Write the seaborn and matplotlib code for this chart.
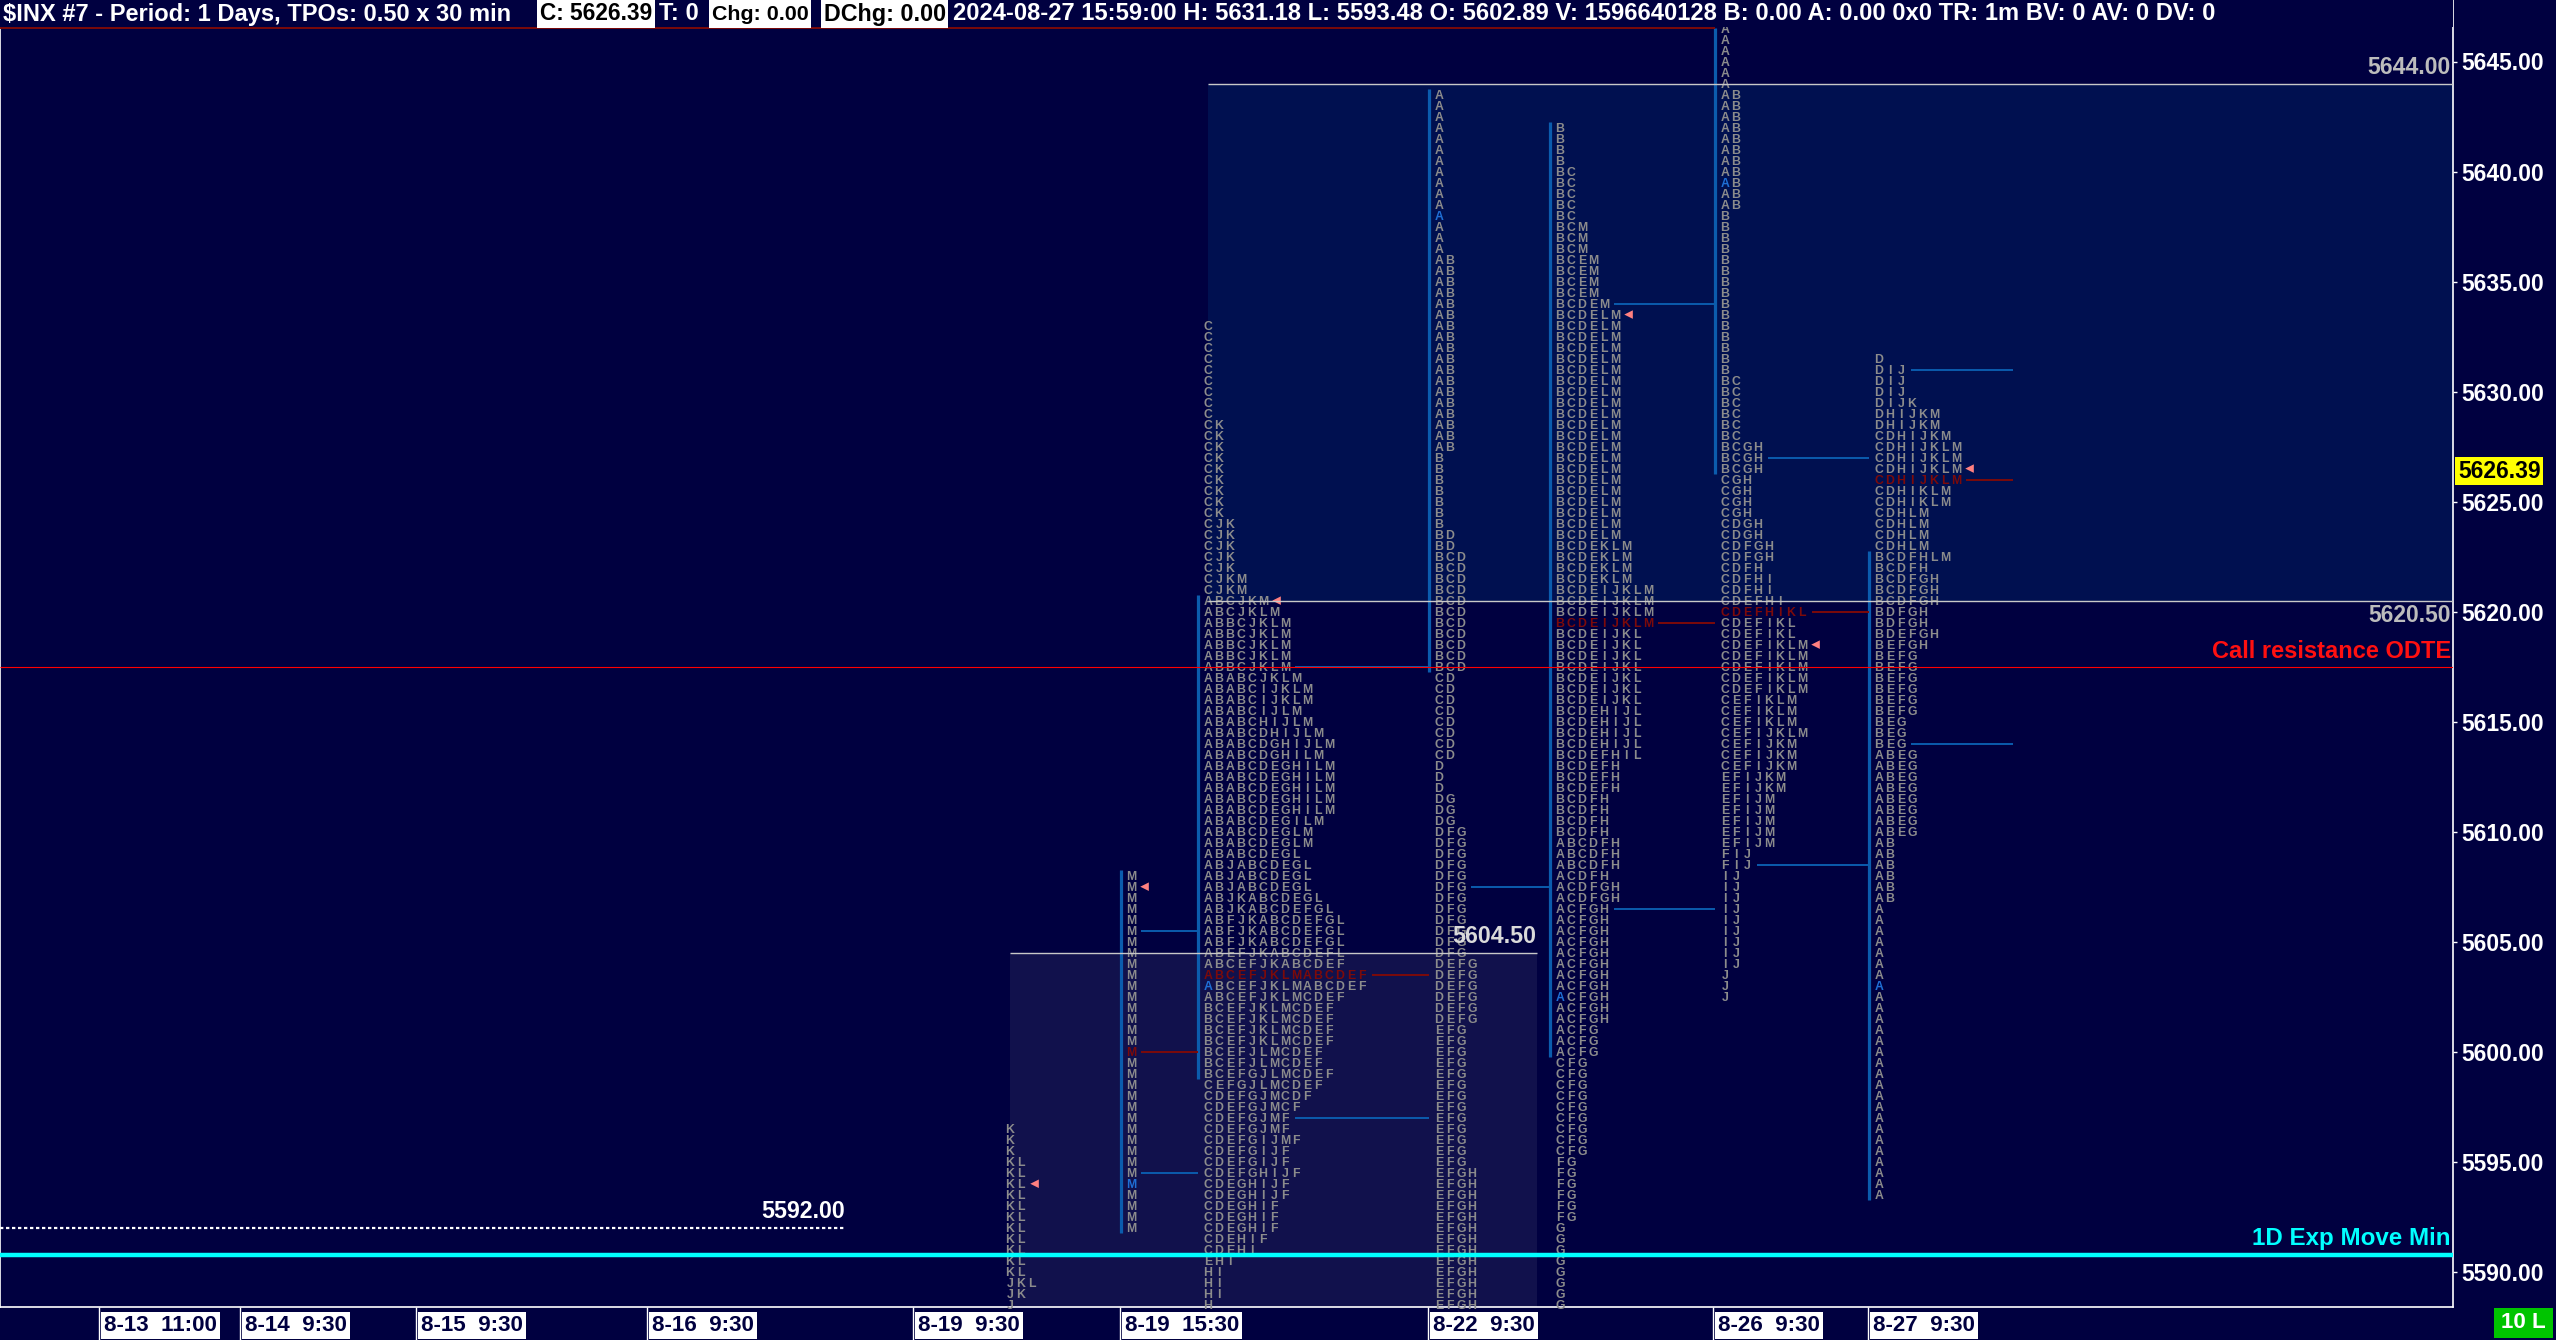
#%%
import numpy as np
import pandas as pd
import seaborn as sns
import matplotlib as mpl
import matplotlib.pyplot as plt
from matplotlib.patches import Rectangle

sns.set_style("dark")
mpl.rcParams["font.family"] = ["Liberation Sans", "DejaVu Sans"]

#%% data
price_ticks = [5590, 5595, 5600, 5605, 5610, 5615, 5620, 5625, 5630, 5635, 5640, 5645]
last_price = 5626.39

session_labels = ["8-13  11:00", "8-14  9:30", "8-15  9:30", "8-16  9:30", "8-19  9:30",
                  "8-19  15:30", "8-22  9:30", "8-26  9:30", "8-27  9:30"]

header_title = "$INX #7 - Period: 1 Days, TPOs: 0.50 x 30 min"
header_close = "C: 5626.39"
header_ticks = "T: 0"
header_chg = "Chg: 0.00"
header_dchg = "DChg: 0.00"
header_info = ("2024-08-27 15:59:00 H: 5631.18 L: 5593.48 O: 5602.89 V: 1596640128 "
               "B: 0.00 A: 0.00 0x0 TR: 1m BV: 0 AV: 0 DV: 0")

# TPO rows, top to bottom: (letters, number of 0.50 rows)
p1_rows = [("K", 3), ("KL", 11), ("JKL", 1), ("JK", 1), ("J", 1)]
p2_rows = [("M", 33)]
p3_rows = [
    ("C", 9), ("CK", 9), ("CJK", 5), ("CJKM", 2), ("ABCJKM", 1), ("ABCJKLM", 1),
    ("ABBCJKLM", 5), ("ABABCJKLM", 1), ("ABABCIJKLM", 2), ("ABABCIJLM", 1),
    ("ABABCHIJLM", 1), ("ABABCDHIJLM", 1), ("ABABCDGHIJLM", 1), ("ABABCDGHILM", 1),
    ("ABABCDEGHILM", 5), ("ABABCDEGILM", 1), ("ABABCDEGLM", 2), ("ABABCDEGL", 1),
    ("ABJABCDEGL", 3), ("ABJKABCDEGL", 1), ("ABJKABCDEFGL", 1), ("ABFJKABCDEFGL", 3),
    ("ABEFJKABCDEFL", 1), ("ABCEFJKABCDEF", 1), ("ABCEFJKLMABCDEF", 2),
    ("ABCEFJKLMCDEF", 1), ("BCEFJKLMCDEF", 4), ("BCEFJLMCDEF", 2), ("BCEFGJLMCDEF", 1),
    ("CEFGJLMCDEF", 1), ("CDEFGJMCDF", 1), ("CDEFGJMCF", 1), ("CDEFGJMF", 2),
    ("CDEFGIJMF", 1), ("CDEFGIJF", 2), ("CDEFGHIJF", 1), ("CDEGHIJF", 2),
    ("CDEGHIF", 3), ("CDEHIF", 1), ("CDEHI", 1), ("EHI", 1), ("HI", 3), ("H", 1),
]
p4_rows = [("A", 15), ("AB", 18), ("B", 7), ("BD", 2), ("BCD", 11), ("CD", 8), ("D", 3),
           ("DG", 3), ("DFG", 12), ("DEFG", 6), ("EFG", 13), ("EFGH", 13)]
p5_rows = [
    ("B", 4), ("BC", 5), ("BCM", 3), ("BCEM", 4), ("BCDEM", 1), ("BCDELM", 21),
    ("BCDEKLM", 4), ("BCDEIJKLM", 4), ("BCDEIJKL", 7), ("BCDEHIJL", 4), ("BCDEFHIL", 1),
    ("BCDEFH", 3), ("BCDFH", 4), ("ABCDFH", 3), ("ACDFH", 1), ("ACDFGH", 2),
    ("ACFGH", 11), ("ACFG", 3), ("CFG", 9), ("FG", 6), ("G", 8),
]
p6_rows = [
    ("A", 6), ("AB", 11), ("B", 15), ("BC", 6), ("BCGH", 3), ("CGH", 4), ("CDGH", 2),
    ("CDFGH", 2), ("CDFH", 1), ("CDFHI", 2), ("CDEFHI", 1), ("CDEFHIKL", 1),
    ("CDEFIKL", 2), ("CDEFIKLM", 5), ("CEFIKLM", 3), ("CEFIJKLM", 1), ("CEFIJKM", 3),
    ("EFIJKM", 2), ("EFIJM", 5), ("FIJ", 2), ("IJ", 9), ("J", 3),
]
p7_rows = [
    ("D", 1), ("DIJ", 3), ("DIJK", 1), ("DHIJKM", 2), ("CDHIJKM", 1), ("CDHIJKLM", 4),
    ("CDHIKLM", 2), ("CDHLM", 4), ("BCDFHLM", 1), ("BCDFH", 1), ("BCDFGH", 3),
    ("BDFGH", 2), ("BDEFGH", 1), ("BEFGH", 1), ("BEFG", 6), ("BEG", 3), ("ABEG", 8),
    ("AB", 6), ("A", 27),
]
profile_rows = [p1_rows, p2_rows, p3_rows, p4_rows, p5_rows, p6_rows, p7_rows]
profile_top = [5596.5, 5608.0, 5633.0, 5643.5, 5642.0, 5646.5, 5631.5]
profile_poc = [None, 5600.0, 5603.5, None, 5619.5, 5620.0, 5626.0]
profile_open = [None, 5594.0, 5603.0, 5638.0, 5602.5, 5639.5, 5603.0]
profile_mark = [5594.0, 5607.5, 5620.5, None, 5633.5, 5618.5, 5626.5]
profile_ib = [None, (5591.75, 5608.25), (5598.75, 5620.75), (5617.25, 5643.75),
              (5599.75, 5642.25), (5626.25, 5646.5), (5593.25, 5622.75)]
profile_levels = [
    [],
    [(5605.5, "va"), (5600.0, "poc"), (5594.5, "va")],
    [(5617.5, "va"), (5603.5, "poc"), (5597.0, "va")],
    [(5607.5, "va")],
    [(5634.0, "va"), (5619.5, "poc"), (5606.5, "va")],
    [(5627.0, "va"), (5620.0, "poc"), (5608.5, "va")],
    [(5631.0, "va"), (5626.0, "poc"), (5614.0, "va")],
]

# composite value areas and drawn levels
va_low_box = (5604.5, None)
va_high_box = (5620.5, 5644.0)
old_poc_price = 5646.5
dashed_level = 5592.0
call_resistance = 5617.5
exp_move_min = 5590.75

#%% layout (pixels of the 2556x1340 picture, 1 TPO column = 11 px)
W, H = 2556, 1340
col_px = 11.0
plot_w, plot_h = 2453, 1307
profile_col = [91.8, 102.8, 109.8, 130.8, 141.8, 156.8, 170.8]
session_col = [9.0, 21.8, 37.8, 58.8, 83.0, 101.8, 129.8, 155.7, 169.8]
last_level_end = 183.0
va_low_x = (91.8, 139.7)
dashed_end = 76.8
px_per_point = (1271.8 - 61.5) / 55
ylim = (5590 - (plot_h - 1271.8) / px_per_point, 5645 + 61.5 / px_per_point)

bg = "#000040"
letter_gray = "#8c8c8c"
poc_red = "#7c0a0a"
open_blue = "#1f6fd6"
bar_blue = "#0b5cad"
narrow = ["Liberation Sans Narrow", "DejaVu Sans Condensed", "Liberation Sans", "DejaVu Sans"]

fig = plt.figure(figsize=(W / 100, H / 100), dpi=100, facecolor=bg)
renderer = fig.canvas.get_renderer()


def fit_size(text, width_px, family=narrow, weight="bold", base=20.0):
    t = fig.text(0, 0, text, fontsize=base, family=family, weight=weight,
                 stretch="condensed", parse_math=False)
    w = t.get_window_extent(renderer=renderer).width
    t.remove()
    return base * width_px / w


ax = fig.add_axes([0, (H - plot_h) / H, plot_w / W, plot_h / H], facecolor=bg)
ax.set_xlim(0, plot_w / col_px)
ax.set_ylim(*ylim)
ax.grid(False)
ax.spines["top"].set_visible(False)
for s in ["left", "right", "bottom"]:
    ax.spines[s].set_color("white")
    ax.spines[s].set_linewidth(1.2)
ax.tick_params(axis="x", bottom=False, labelbottom=False)

# y axis on the right
fs_tick = fit_size("5645.00", 83)
ax.yaxis.tick_right()
ax.set_yticks(price_ticks)
ax.set_yticklabels([f"{p:.2f}" for p in price_ticks])
ax.tick_params(axis="y", colors="white", length=3, width=1, pad=3, labelsize=fs_tick)
for lbl in ax.get_yticklabels():
    lbl.set_fontfamily(narrow)
    lbl.set_fontweight("bold")
    lbl.set_fontstretch("condensed")

lab = dict(family=narrow, weight="bold", stretch="condensed")

#%% value area boxes
ax.add_patch(Rectangle((va_low_x[0], ylim[0] - 1), va_low_x[1] - va_low_x[0],
                       va_low_box[0] - ylim[0] + 1, facecolor="#11114c", edgecolor="none", zorder=1))
ax.hlines(va_low_box[0], va_low_x[0], va_low_x[1], color="#c8c8c8", lw=1, zorder=6)
hx0 = profile_col[2]
hx1 = plot_w / col_px
ax.add_patch(Rectangle((hx0, va_high_box[0]), hx1 - hx0, va_high_box[1] - va_high_box[0],
                       facecolor="#001050", edgecolor="none", zorder=1))
ax.hlines(list(va_high_box), hx0, hx1, color="#c8c8c8", lw=1, zorder=6)

p = 1 / px_per_point
ax.text(va_low_x[1], va_low_box[0] + 5 * p, f"{va_low_box[0]:.2f}", ha="right", va="bottom",
        color="#dadada", fontsize=fit_size("5604.50", 84), zorder=7, **lab)
ax.text(hx1 - 0.2, va_high_box[1] + 5 * p, f"{va_high_box[1]:.2f}", ha="right", va="bottom",
        color="#bcbcbc", fontsize=fit_size("5644.00", 83), zorder=7, **lab)
ax.text(hx1 - 0.2, va_high_box[0] - 3 * p, f"{va_high_box[0]:.2f}", ha="right", va="top",
        color="#bcbcbc", fontsize=fit_size("5620.50", 83), zorder=7, **lab)

#%% TPO letters
records = []
row_len = []
for i, rows in enumerate(profile_rows):
    price = profile_top[i]
    lens = {}
    for letters, n in rows:
        for _ in range(n):
            lens[round(price, 2)] = len(letters)
            for j, ch in enumerate(letters):
                color = letter_gray
                if profile_poc[i] is not None and abs(price - profile_poc[i]) < 1e-6:
                    color = poc_red
                elif j == 0 and profile_open[i] is not None and abs(price - profile_open[i]) < 1e-6:
                    color = open_blue
                records.append((i, price, profile_col[i] + j, ch, color))
            price -= 0.5
    row_len.append(lens)
tpo = pd.DataFrame(records, columns=["profile", "price", "x", "letter", "color"])

cap_shift = 4.4 * p
for r in tpo.itertuples():
    ax.text(r.x, r.price - cap_shift, r.letter, ha="center", va="baseline", fontsize=8.8,
            color=r.color, family=["Liberation Sans", "DejaVu Sans"], weight="bold", zorder=4)

# initial balance bars and extension levels
for i, ib in enumerate(profile_ib):
    if ib is not None:
        ax.vlines(profile_col[i] - 0.9, ib[0], ib[1], color=bar_blue, lw=2.3, zorder=3)
for i, levels in enumerate(profile_levels):
    end = profile_col[i + 1] - 0.9 if i + 1 < len(profile_col) else last_level_end
    for price, kind in levels:
        start = profile_col[i] + row_len[i][round(price, 2)] - 0.1
        ax.hlines(price, start, end, color=bar_blue if kind == "va" else poc_red,
                  lw=1.4, zorder=3)

marks = pd.DataFrame([(profile_col[i] + row_len[i][round(m, 2)] + 0.25, m)
                      for i, m in enumerate(profile_mark) if m is not None], columns=["x", "y"])
sns.scatterplot(data=marks, x="x", y="y", marker="<", s=38, color="#ff8080",
                edgecolor="none", ax=ax, zorder=5, legend=False)
ax.set_xlabel("")
ax.set_ylabel("")

#%% drawn levels
ax.hlines(old_poc_price, 0, profile_col[5] - 0.9, color=poc_red, lw=1.4, zorder=3)
ax.hlines(dashed_level, 0, dashed_end, color="white", lw=1.6, linestyles=(0, (1.5, 1.2)), zorder=6)
ax.text(dashed_end, dashed_level + 5 * p, f"{dashed_level:.2f}", ha="right", va="bottom",
        color="white", fontsize=fit_size("5592.00", 84), zorder=7, **lab)
ax.hlines(call_resistance, 0, hx1, color="#ff0000", lw=0.8, zorder=6)
ax.text(hx1 - 0.2, call_resistance + 4 * p, "Call resistance ODTE", ha="right", va="bottom",
        color="#ff1010", fontsize=fit_size("Call resistance ODTE", 239), zorder=7, **lab)
ax.hlines(exp_move_min, 0, hx1, color="#00ffff", lw=3.2, zorder=6)
ax.text(hx1 - 0.2, exp_move_min + 5 * p, "1D Exp Move Min", ha="right", va="bottom",
        color="#00ffff", fontsize=fit_size("1D Exp Move Min", 198), zorder=7, **lab)

# last price box on the axis
ax.text(1 + 5 / plot_w, last_price, f"{last_price:.2f}", transform=ax.get_yaxis_transform(),
        ha="left", va="center", color="black", fontsize=fs_tick,
        bbox=dict(facecolor="#ffff00", edgecolor="none", boxstyle="square,pad=0.12"),
        clip_on=False, zorder=8, **lab)

#%% time axis band
ax_b = fig.add_axes([0, 0, plot_w / W, (H - plot_h) / H], facecolor=bg)
ax_b.set_xlim(0, plot_w / col_px)
ax_b.set_ylim(0, 1)
ax_b.axis("off")
ax_b.vlines(session_col, 0, 1, color="white", lw=1)
fs_x = fit_size(session_labels[0], 113)
for c, s in zip(session_col, session_labels):
    ax_b.text(c + 5 / col_px, 0.45, s, ha="left", va="center", color="#000040",
              fontsize=fs_x, bbox=dict(facecolor="white", edgecolor="none",
                                       boxstyle="square,pad=0.14"), **lab)

fig.patches.append(Rectangle((2494 / W, 2 / H), 59 / W, 30 / H, transform=fig.transFigure,
                             facecolor="#00c400", edgecolor="none", zorder=5))
fig.text(2523 / W, 1 - 1323 / H, "10 L", ha="center", va="center", color="white",
         fontsize=fs_x, zorder=6, **lab)

#%% header line
fig.patches.append(Rectangle((0, 1 - 27 / H), plot_w / W, 27 / H, transform=fig.transFigure,
                             facecolor=bg, edgecolor="none", zorder=5))
fs_head = fit_size(header_info, 1258)
header_items = [(3, 508, header_title, "white"), (540, 112, header_close, "black"),
                (659, 46, header_ticks, "white"), (712, 96, header_chg, "black"),
                (824, 121, header_dchg, "black"), (953, 1258, header_info, "white")]
for x0, x1 in [(537, 655), (709, 811), (821, 948)]:
    fig.patches.append(Rectangle((x0 / W, 1 - 28 / H), (x1 - x0) / W, 28 / H,
                                 transform=fig.transFigure, facecolor="white",
                                 edgecolor="none", zorder=6))
for x, w, s, col in header_items:
    fig.text(x / W, 1 - 14 / H, s, ha="left", va="center", color=col,
             fontsize=min(fs_head, fit_size(s, w)), parse_math=False, zorder=7, **lab)

fig.savefig("out.png", dpi=100, facecolor=bg)
